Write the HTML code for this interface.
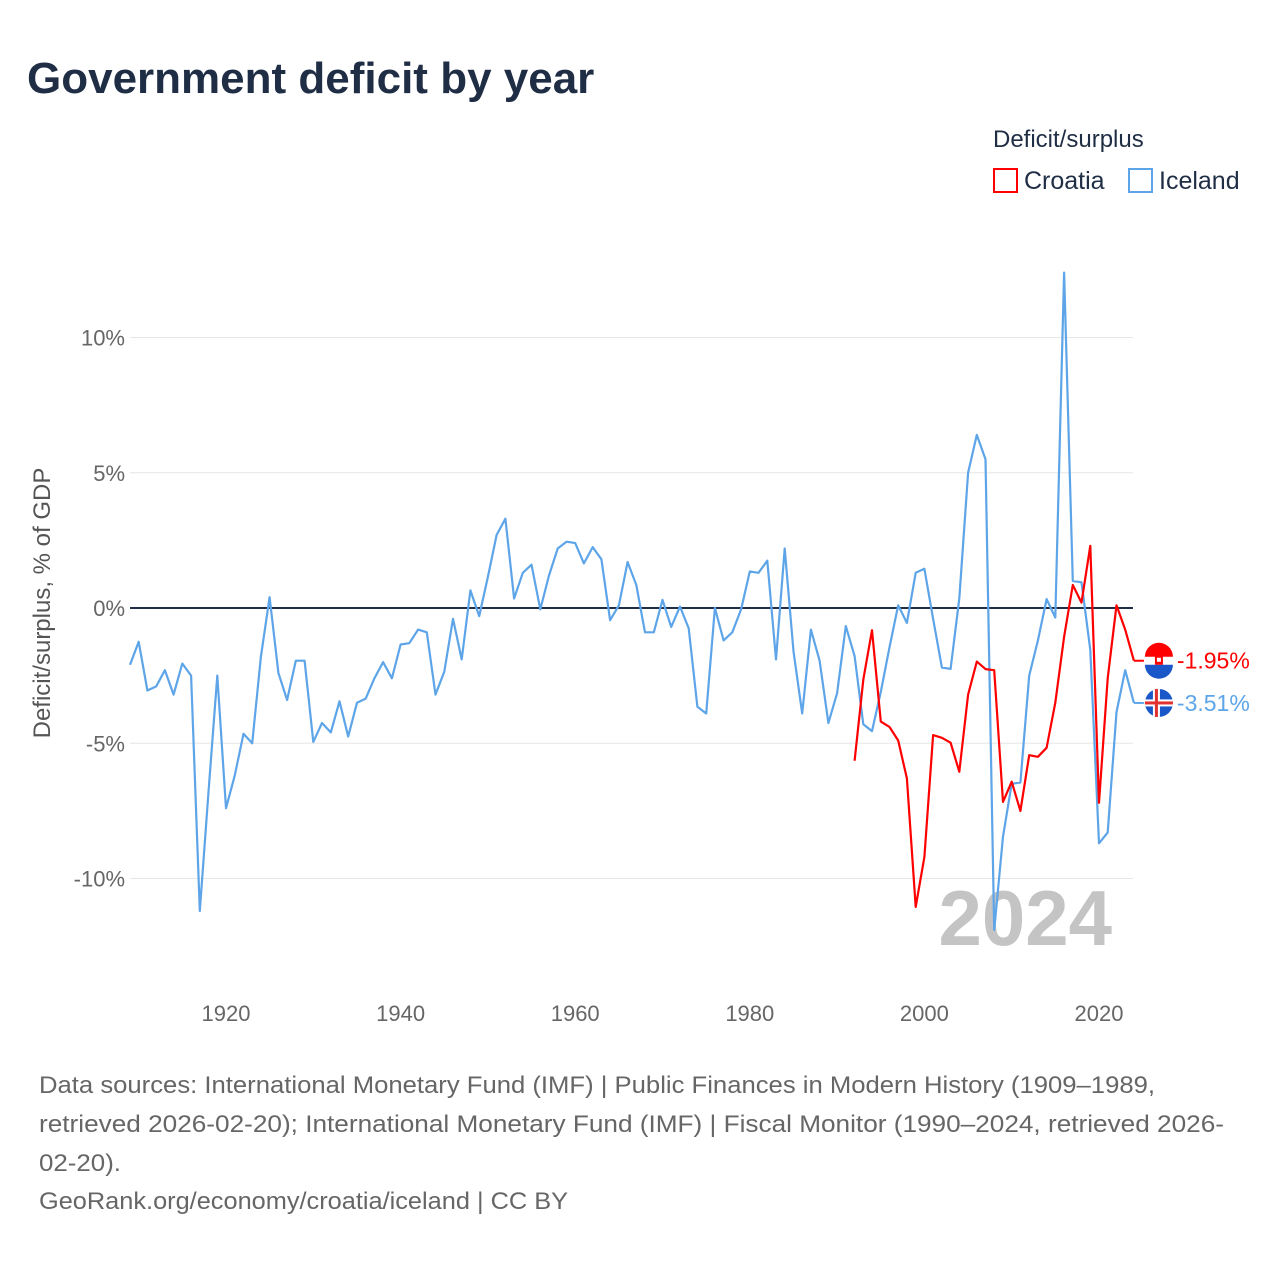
<!DOCTYPE html>
<html><head><meta charset="utf-8"><style>
body{margin:0;background:#fff;font-family:"Liberation Sans",sans-serif;}
</style></head><body>
<svg width="1280" height="1280" xmlns="http://www.w3.org/2000/svg" style="font-family:'Liberation Sans',sans-serif">
<text x="27" y="93" font-size="44" font-weight="bold" fill="#1f2d45">Government deficit by year</text>
<g>
<text x="993" y="147" font-size="24" fill="#1f2d45">Deficit/surplus</text>
<g><rect x="994" y="169" width="23" height="23" fill="none" stroke="#ff0000" stroke-width="2"/><text x="1024" y="189" font-size="25" fill="#1f2d45">Croatia</text></g>
<g><rect x="1129" y="169" width="23" height="23" fill="none" stroke="#5da5e8" stroke-width="2"/><text x="1159" y="189" font-size="25" fill="#1f2d45">Iceland</text></g>
</g>
<g id="grid"></g>
<text x="1112" y="945" font-size="78" font-weight="bold" fill="#c4c4c4" text-anchor="end">2024</text>
<g id="series"></g>
<text transform="translate(50,603) rotate(-90)" text-anchor="middle" font-size="24" fill="#555">Deficit/surplus, % of GDP</text>
<g id="endlabels"></g>
<g font-size="24" fill="#666">
<text x="39" y="1093" textLength="1116" lengthAdjust="spacingAndGlyphs">Data sources: International Monetary Fund (IMF) | Public Finances in Modern History (1909–1989,</text>
<text x="39" y="1132" textLength="1185" lengthAdjust="spacingAndGlyphs">retrieved 2026-02-20); International Monetary Fund (IMF) | Fiscal Monitor (1990–2024, retrieved 2026-</text>
<text x="39" y="1171" textLength="82" lengthAdjust="spacingAndGlyphs">02-20).</text>
<text x="39" y="1209" textLength="529" lengthAdjust="spacingAndGlyphs">GeoRank.org/economy/croatia/iceland | CC BY</text>
</g>
</svg>
<script>
const yTicks=[10,5,0,-5,-10];
const yTickLabels=["10%","5%","0%","-5%","-10%"];
const xTicks=[1920,1940,1960,1980,2000,2020];
const icelandStart=1909;
const icelandValues=[-2.1,-1.25,-3.05,-2.9,-2.3,-3.2,-2.05,-2.5,-11.2,-6.8,-2.5,-7.4,-6.2,-4.65,-5.0,-1.8,0.4,-2.4,-3.4,-1.95,-1.95,-4.95,-4.25,-4.6,-3.45,-4.75,-3.5,-3.35,-2.6,-2.0,-2.6,-1.35,-1.3,-0.8,-0.9,-3.2,-2.35,-0.4,-1.9,0.65,-0.3,1.15,2.7,3.3,0.35,1.3,1.6,-0.05,1.2,2.2,2.45,2.4,1.65,2.25,1.8,-0.45,0.1,1.7,0.85,-0.9,-0.9,0.3,-0.7,0.05,-0.75,-3.65,-3.9,0.0,-1.2,-0.9,-0.05,1.35,1.3,1.75,-1.9,2.2,-1.6,-3.9,-0.8,-1.95,-4.25,-3.15,-0.67,-1.78,-4.3,-4.55,-3.1,-1.45,0.1,-0.55,1.3,1.45,-0.4,-2.2,-2.25,0.35,5.0,6.4,5.5,-11.9,-8.45,-6.5,-6.45,-2.5,-1.2,0.33,-0.35,12.4,1.0,0.95,-1.55,-8.7,-8.3,-3.85,-2.3,-3.51];
const croatiaStart=1992;
const croatiaValues=[-5.65,-2.65,-0.82,-4.2,-4.4,-4.9,-6.3,-11.05,-9.2,-4.7,-4.8,-4.98,-6.05,-3.2,-1.98,-2.26,-2.3,-7.17,-6.42,-7.5,-5.44,-5.5,-5.17,-3.5,-1.07,0.85,0.2,2.3,-7.2,-2.6,0.1,-0.8,-1.95];
const NS="http://www.w3.org/2000/svg";
const x=y=>226+(y-1920)*8.73;
const yv=v=>608-v*27.05;
function mk(t,a,p){const e=document.createElementNS(NS,t);for(const k in a)e.setAttribute(k,a[k]);p.appendChild(e);return e;}
const grid=document.getElementById('grid');
yTicks.forEach((t,i)=>{
 const l=mk('line',{x1:130,x2:1133,y1:yv(t),y2:yv(t),stroke:t===0?'#1f2d45':'#e6e6e6','stroke-width':t===0?2:1},grid);
 
 
 const tx=mk('text',{x:125,y:yv(t)+8,'text-anchor':'end','font-size':22,fill:'#666'},grid);
 tx.textContent=yTickLabels[i];
 
 
});
xTicks.forEach(t=>{
 const tx=mk('text',{x:x(t),y:1021,'text-anchor':'middle','font-size':22,fill:'#666'},grid);
 tx.textContent=t;
 
 
});
const s=document.getElementById('series');
function line(vals,start,col,name){
 const d=vals.map((v,i)=>(i?'L':'M')+x(start+i).toFixed(1)+' '+yv(v).toFixed(1)).join(' ');
 const p=mk('path',{d:d,fill:'none',stroke:col,'stroke-width':2.2,'stroke-linejoin':'round'},s);
 
 
}
line(icelandValues,icelandStart,'#5da5e8','iceland-line');
line(croatiaValues,croatiaStart,'#ff0000','croatia-line');
const el=document.getElementById('endlabels');
function endLabel(vals,start,col,name,flag){
 const v=vals[vals.length-1],xx=x(start+vals.length-1),yy=yv(v);
 mk('line',{x1:xx,x2:xx+10,y1:yy,y2:yy,stroke:col,'stroke-width':2},el);
 const g=mk('g',{},el);
 
 
 const cx=xx+25;
 mk('circle',{cx:cx,cy:yy,r:14,fill:'#fff'},g);
 if(flag==='hr'){
  mk('path',{d:`M${cx-14} ${yy-4} A14 14 0 0 1 ${cx+14} ${yy-4} Z`,fill:'#ff0000'},g);
  mk('path',{d:`M${cx-14} ${yy+4} A14 14 0 0 0 ${cx+14} ${yy+4} Z`,fill:'#1a57c8'},g);
  mk('rect',{x:cx-4,y:yy-5,width:8,height:9,fill:'#ff0000'},g);
  mk('rect',{x:cx-2,y:yy-3,width:4,height:4,fill:'#fff'},g);
 }else{
  mk('circle',{cx:cx,cy:yy,r:14,fill:'#1a57c8'},g);
  mk('rect',{x:cx-14,y:yy-3.5,width:28,height:7,fill:'#fff'},g);
  mk('rect',{x:cx-6,y:yy-14,width:7,height:28,fill:'#fff'},g);
  mk('rect',{x:cx-14,y:yy-1.5,width:28,height:3,fill:'#e03030'},g);
  mk('rect',{x:cx-4,y:yy-14,width:3,height:28,fill:'#e03030'},g);
 }
 const t=mk('text',{x:xx+43,y:yy+8,'font-size':23,fill:col},el);
 t.textContent=v.toFixed(2)+'%';
 
 
}
endLabel(croatiaValues,croatiaStart,'#ff0000','croatia','hr');
endLabel(icelandValues,icelandStart,'#5da5e8','iceland','is');
</script>
</body></html>
